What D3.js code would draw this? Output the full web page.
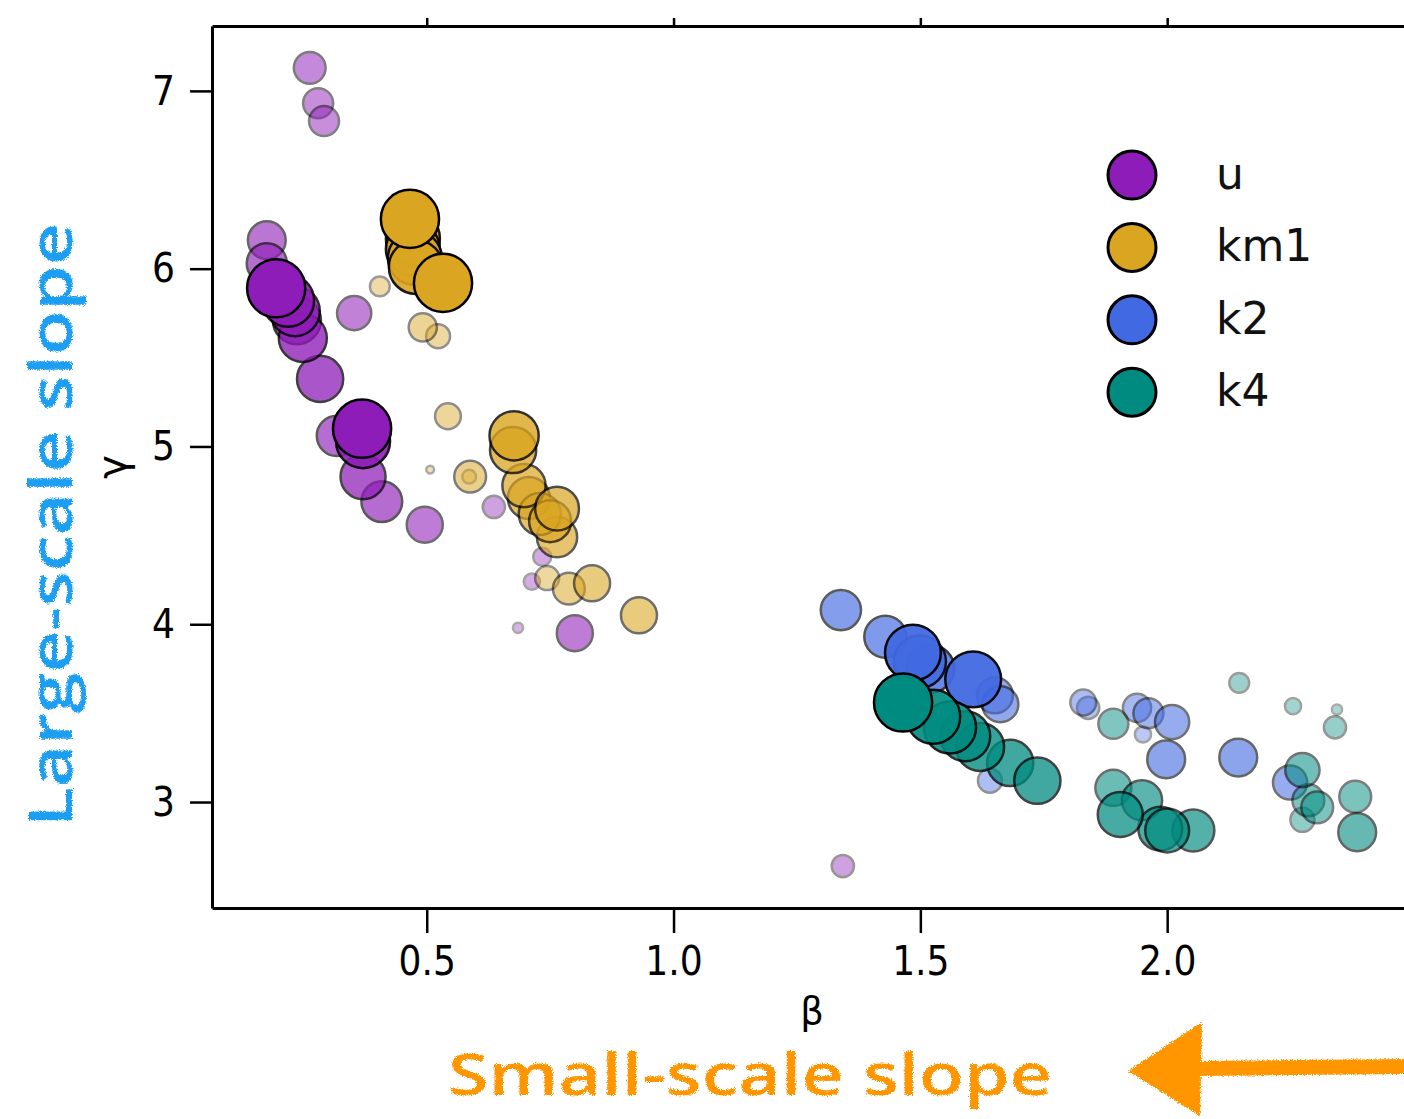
<!DOCTYPE html>
<html>
<head>
<meta charset="utf-8">
<script src="https://cdn.jsdelivr.net/npm/d3@7"></script>
<style>
  html, body { margin: 0; padding: 0; background: #ffffff; }
  svg { display: block; }
</style>
</head>
<body>
<svg id="chart" width="1404" height="1119"></svg>
<script>
// Series names and their colours
const groups = ["u", "km1", "k2", "k4"];
const groupColors = ["#8E1CB8", "#DAA520", "#4169E1", "#008B80"];

// Each point: [β (small-scale slope), γ (large-scale slope), weight 0..1]
const uPoints = [
  [0.263, 7.13, 0.53], [0.280, 6.93, 0.50], [0.292, 6.83, 0.50],
  [0.176, 6.16, 0.63], [0.176, 6.03, 0.67], [0.195, 5.89, 0.97],
  [0.219, 5.82, 0.87], [0.233, 5.76, 0.83], [0.237, 5.71, 0.80],
  [0.249, 5.61, 0.80], [0.284, 5.38, 0.77], [0.353, 5.75, 0.57],
  [0.318, 5.06, 0.67], [0.369, 5.10, 0.97], [0.371, 5.03, 0.90],
  [0.371, 4.83, 0.75], [0.409, 4.69, 0.68], [0.496, 4.56, 0.60],
  [0.636, 4.66, 0.37], [0.734, 4.38, 0.30], [0.713, 4.24, 0.27],
  [0.685, 3.98, 0.17], [0.800, 3.95, 0.60], [1.343, 2.64, 0.37]
];
const km1Points = [
  [0.466, 6.28, 0.97], [0.472, 6.17, 0.90], [0.472, 6.11, 0.90],
  [0.476, 6.06, 0.90], [0.478, 6.01, 0.90], [0.533, 5.92, 0.97],
  [0.405, 5.90, 0.33], [0.492, 5.67, 0.47], [0.523, 5.62, 0.40],
  [0.543, 5.17, 0.43], [0.588, 4.83, 0.53], [0.586, 4.83, 0.23],
  [0.507, 4.87, 0.13], [0.677, 5.06, 0.82], [0.675, 4.98, 0.77],
  [0.697, 4.78, 0.72], [0.707, 4.71, 0.70], [0.729, 4.62, 0.70],
  [0.764, 4.65, 0.73], [0.750, 4.58, 0.70], [0.764, 4.49, 0.67],
  [0.744, 4.26, 0.40], [0.788, 4.20, 0.53], [0.835, 4.23, 0.60],
  [0.930, 4.05, 0.60]
];
const k2Points = [
  [1.339, 4.08, 0.67], [1.429, 3.93, 0.70], [1.485, 3.84, 0.93],
  [1.499, 3.79, 0.87], [1.520, 3.75, 0.80], [1.607, 3.69, 0.93],
  [1.651, 3.60, 0.60], [1.662, 3.55, 0.60], [1.641, 3.12, 0.40],
  [1.830, 3.56, 0.43], [1.840, 3.53, 0.37], [1.939, 3.53, 0.47],
  [1.962, 3.50, 0.50], [2.010, 3.45, 0.57], [1.951, 3.38, 0.27],
  [1.998, 3.24, 0.63], [2.144, 3.25, 0.63], [2.249, 3.11, 0.57]
];
const k4Points = [
  [1.465, 3.56, 0.97], [1.526, 3.48, 0.90], [1.560, 3.42, 0.87],
  [1.591, 3.37, 0.83], [1.621, 3.31, 0.80], [1.682, 3.22, 0.77],
  [1.737, 3.12, 0.77], [1.891, 3.44, 0.50], [2.146, 3.67, 0.33],
  [2.255, 3.54, 0.27], [2.344, 3.52, 0.17], [2.340, 3.42, 0.37],
  [2.274, 3.18, 0.57], [2.286, 3.01, 0.53], [2.304, 2.97, 0.53],
  [2.274, 2.90, 0.40], [2.381, 3.03, 0.53], [2.385, 2.83, 0.63],
  [1.891, 3.08, 0.60], [1.905, 2.93, 0.75], [1.949, 3.01, 0.67],
  [1.986, 2.85, 0.73], [2.000, 2.84, 0.73], [2.053, 2.84, 0.70]
];
const seriesPoints = [uPoints, km1Points, k2Points, k4Points];

// Axis ticks and labels
const xTicks = [0.5, 1.0, 1.5, 2.0];
const yTicks = [3, 4, 5, 6, 7];
const xLabel = "β";
const yLabel = "γ";
const xNote = "Small-scale slope";
const yNote = "Large-scale slope";

// ---- layout ----
const svg = d3.select("#chart");
const plot = { left: 212, right: 1412, top: 26, bottom: 908 };

const x = d3.scaleLinear().domain([0.065, 2.496]).range([plot.left, plot.right]);
const y = d3.scaleLinear().domain([2.404, 7.365]).range([plot.bottom, plot.top]);
const rScale = d3.scaleLinear().domain([0, 1]).range([0, 30]);
const alphaScale = d3.scalePow().exponent(2).domain([0.17, 0.97]).range([0.33, 1]).clamp(true);

// hand-drawn crayon look for the annotations
const defs = svg.append("defs");
const crayon = defs.append("filter").attr("id", "crayon")
  .attr("x", "-10%").attr("y", "-30%").attr("width", "120%").attr("height", "160%");
crayon.append("feTurbulence").attr("type", "fractalNoise").attr("baseFrequency", 0.8)
  .attr("numOctaves", 2).attr("seed", 4).attr("result", "noise");
crayon.append("feDisplacementMap").attr("in", "SourceGraphic").attr("in2", "noise")
  .attr("scale", 5).attr("xChannelSelector", "R").attr("yChannelSelector", "G");

// ---- points ----
const gPts = svg.append("g");
groups.forEach((name, i) => {
  const pts = seriesPoints[i].slice().sort((a, b) => a[2] - b[2]);
  gPts.append("g").attr("class", "series-" + name)
    .selectAll("circle").data(pts).join("circle")
    .attr("cx", d => x(d[0]))
    .attr("cy", d => y(d[1]))
    .attr("r", d => rScale(d[2]))
    .attr("fill", groupColors[i])
    .attr("stroke", "#000")
    .attr("stroke-width", 2.5)
    .attr("opacity", d => alphaScale(d[2]));
});

// ---- axes ----
const tickFont = "'DejaVu Sans', sans-serif";
function styleAxis(g) {
  g.select(".domain").attr("stroke", "#000").attr("stroke-width", 3);
  g.selectAll(".tick line").attr("stroke", "#000").attr("stroke-width", 2.5);
  g.selectAll(".tick text").attr("fill", "#000")
    .style("font-family", tickFont).style("font-size", "41px");
}

const xAxis = svg.append("g").attr("transform", `translate(0,${plot.bottom})`)
  .call(d3.axisBottom(x).tickValues(xTicks).tickSize(25).tickSizeOuter(0)
    .tickPadding(13).tickFormat(d3.format(".1f")));
styleAxis(xAxis);

const topAxis = svg.append("g").attr("transform", `translate(0,${plot.top})`)
  .call(d3.axisTop(x).tickValues(xTicks).tickSize(8).tickSizeOuter(0).tickFormat(""));
styleAxis(topAxis);

const yAxis = svg.append("g").attr("transform", `translate(${plot.left},0)`)
  .call(d3.axisLeft(y).tickValues(yTicks).tickSize(22).tickSizeOuter(0)
    .tickPadding(15).tickFormat(d3.format("d")));
styleAxis(yAxis);

svg.append("line").attr("x1", plot.right).attr("x2", plot.right)
  .attr("y1", plot.top).attr("y2", plot.bottom)
  .attr("stroke", "#000").attr("stroke-width", 3);

// slightly narrow tick numerals
svg.selectAll(".tick text").each(function () {
  const w = this.getComputedTextLength();
  if (w > 0) d3.select(this).attr("textLength", w * 0.88).attr("lengthAdjust", "spacingAndGlyphs");
});

// axis titles
svg.append("text").attr("x", (plot.left + plot.right) / 2).attr("y", 1024)
  .attr("text-anchor", "middle").style("font-family", tickFont).style("font-size", "37px")
  .text(xLabel);
svg.append("text").attr("transform", `translate(126,${(plot.top + plot.bottom) / 2}) rotate(-90)`)
  .attr("text-anchor", "middle").style("font-family", tickFont).style("font-size", "40px")
  .text(yLabel);

// ---- legend ----
const legend = svg.append("g");
groups.forEach((name, i) => {
  const cy = 175 + i * 72.4;
  legend.append("circle").attr("cx", 1132).attr("cy", cy).attr("r", 24)
    .attr("fill", groupColors[i]).attr("stroke", "#000").attr("stroke-width", 3);
  legend.append("text").attr("x", 1216).attr("y", cy + 14)
    .style("font-family", tickFont).style("font-size", "44px").attr("fill", "#111")
    .text(name);
});

// ---- hand-written annotations ----
const noteFont = "'Open Sans', sans-serif";
svg.append("text")
  .attr("transform", "translate(72,525) rotate(-90)")
  .attr("text-anchor", "middle")
  .attr("textLength", 604).attr("lengthAdjust", "spacingAndGlyphs")
  .style("font-family", noteFont).style("font-size", "60px").style("font-weight", 600)
  .attr("fill", "#1E9EF2").attr("filter", "url(#crayon)")
  .text(yNote);

svg.append("text")
  .attr("x", 750).attr("y", 1095)
  .attr("text-anchor", "middle")
  .attr("textLength", 604).attr("lengthAdjust", "spacingAndGlyphs")
  .style("font-family", noteFont).style("font-size", "58px").style("font-weight", 600)
  .attr("fill", "#FF9600").attr("filter", "url(#crayon)")
  .text(xNote);

// arrow pointing left toward the β axis
const arrow = svg.append("g").attr("filter", "url(#crayon)").attr("fill", "#FF9600");
arrow.append("path")
  .attr("d", "M1195,1061 L1410,1059 L1410,1074 L1195,1076 Z");
arrow.append("path")
  .attr("d", "M1128,1071 L1202,1022 L1200,1116 Z");
</script>
</body>
</html>
